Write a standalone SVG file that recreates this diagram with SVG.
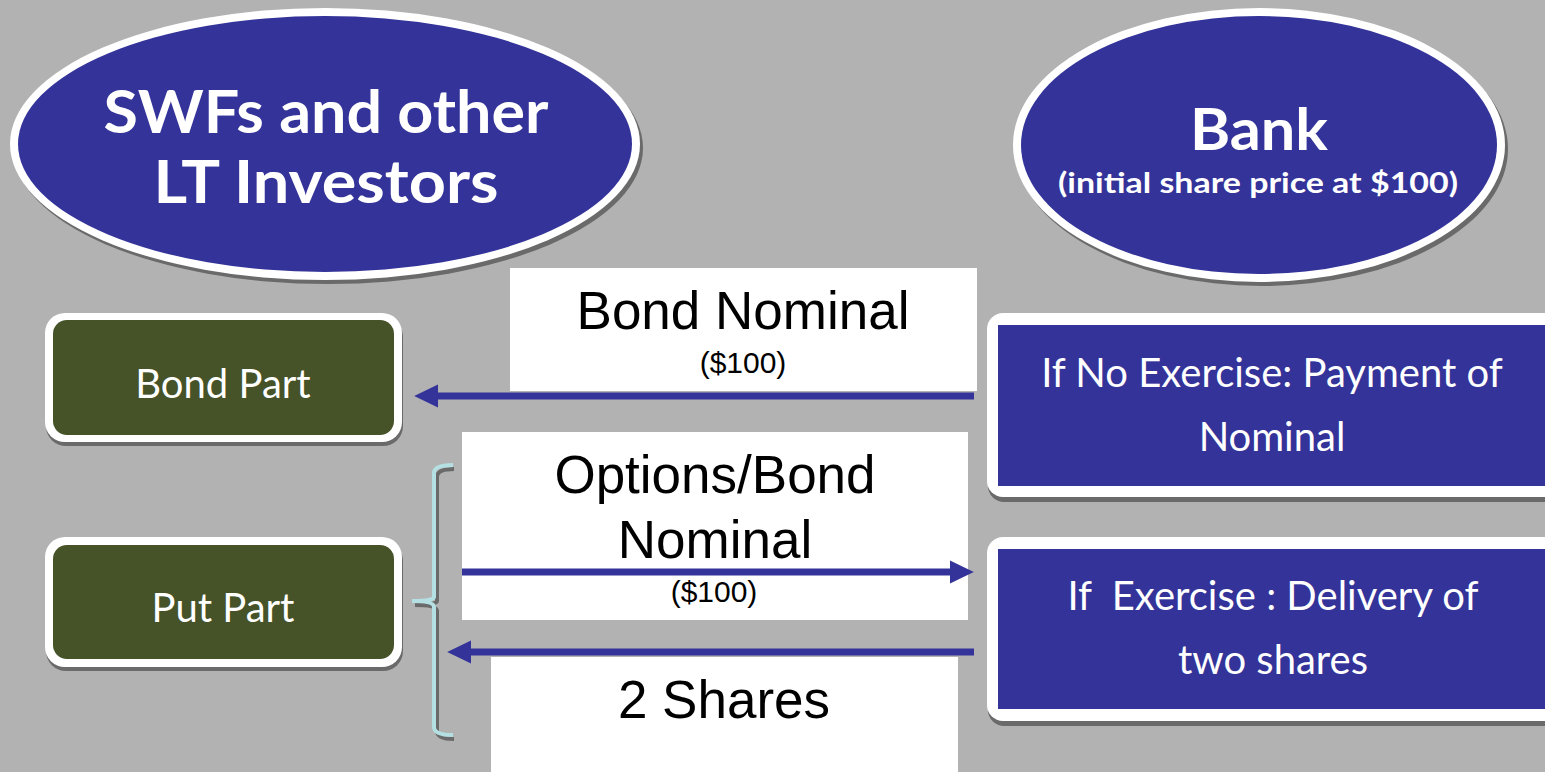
<svg xmlns="http://www.w3.org/2000/svg" width="1545" height="772" viewBox="0 0 1545 772">
<style>
.bg{fill:#b2b2b2}
.shadow{fill:#6a6a6a}
.white{fill:#ffffff}
.blue{fill:#333399}
.green{fill:#465228}
.ell{font-family:Lato,"Open Sans","DejaVu Sans",sans-serif;font-weight:bold;fill:#ffffff;text-anchor:middle}
.box{font-family:Lato,"Open Sans","DejaVu Sans",sans-serif;fill:#ffffff;text-anchor:middle}
.lbl{font-family:"Liberation Sans",Arial,sans-serif;fill:#000000;text-anchor:middle}
.conn{stroke:#333399;stroke-width:7;fill:none}
</style>
<defs>
<marker id="ah" markerWidth="4" markerHeight="4" refX="0" refY="1.65" orient="auto" markerUnits="strokeWidth">
<path d="M0,0 L3.4,1.65 L0,3.3 Z" fill="#333399"/>
</marker>
</defs>
<rect class="bg" x="0" y="0" width="1545" height="772"/>

<g id="investors">
<ellipse class="shadow" cx="328" cy="148" rx="315" ry="136"/>
<ellipse class="white" cx="325" cy="144" rx="315" ry="136"/>
<ellipse class="blue" cx="325" cy="144" rx="307" ry="128"/>
<text class="ell" x="326" y="133" font-size="60" textLength="445" lengthAdjust="spacingAndGlyphs">SWFs and other</text>
<text class="ell" x="326" y="203" font-size="60" textLength="345" lengthAdjust="spacingAndGlyphs">LT Investors</text>
</g>

<g id="bank">
<ellipse class="shadow" cx="1262" cy="149" rx="246" ry="137"/>
<ellipse class="white" cx="1259" cy="145" rx="246" ry="137"/>
<ellipse class="blue" cx="1259" cy="145" rx="238" ry="129"/>
<text class="ell" x="1259" y="150" font-size="58" textLength="138" lengthAdjust="spacingAndGlyphs">Bank</text>
<text class="ell" x="1258" y="193" font-size="29" textLength="400" lengthAdjust="spacingAndGlyphs">(initial share price at $100)</text>
</g>

<g id="bond-part">
<rect class="shadow" x="46" y="317" width="357" height="129" rx="20"/>
<rect class="white" x="45" y="313" width="357" height="129" rx="20"/>
<rect class="green" x="53" y="320" width="341" height="115" rx="14"/>
<text class="box" x="223" y="398" font-size="40">Bond Part</text>
</g>

<g id="put-part">
<rect class="shadow" x="46" y="541" width="357" height="130" rx="20"/>
<rect class="white" x="45" y="537" width="357" height="130" rx="20"/>
<rect class="green" x="53" y="545" width="341" height="114" rx="14"/>
<text class="box" x="223" y="622" font-size="40">Put Part</text>
</g>

<g id="no-exercise">
<rect class="shadow" x="988" y="318" width="580" height="184" rx="16"/>
<rect class="white" x="987" y="313" width="580" height="184" rx="16"/>
<rect class="blue" x="998" y="325" width="570" height="161"/>
<text class="box" x="1272" y="387" font-size="40">If No Exercise: Payment of</text>
<text class="box" x="1272" y="451" font-size="40">Nominal</text>
</g>

<g id="exercise">
<rect class="shadow" x="988" y="542" width="580" height="184" rx="16"/>
<rect class="white" x="987" y="537" width="580" height="184" rx="16"/>
<rect class="blue" x="998" y="549" width="570" height="160"/>
<text class="box" x="1273" y="610" font-size="40" xml:space="preserve">If  Exercise : Delivery of</text>
<text class="box" x="1273" y="674" font-size="40">two shares</text>
</g>

<g id="brace">
<path d="M453,467 Q436,467 436,475 L436,599 Q436,603 414,603 Q436,603 436,609 L436,729 Q436,737 453,737" fill="none" stroke="#6a6a6a" stroke-width="4" transform="translate(1,2)"/>
<path d="M453,465 Q434,465 434,473 L434,597 Q434,601 412,601 Q434,601 434,607 L434,727 Q434,735 453,735" fill="none" stroke="#b5e0e3" stroke-width="4"/>
</g>

<g id="label-bond-nominal">
<rect class="white" x="510" y="268" width="467" height="123"/>
<text class="lbl" x="743" y="329" font-size="53">Bond Nominal</text>
<text class="lbl" x="743" y="373" font-size="30">($100)</text>
</g>

<g id="label-options">
<rect class="white" x="462" y="432" width="506" height="188"/>
<text class="lbl" x="715" y="493" font-size="53">Options/Bond</text>
<text class="lbl" x="715" y="558" font-size="53">Nominal</text>
<text class="lbl" x="714" y="602" font-size="30">($100)</text>
</g>

<g id="label-shares">
<rect class="white" x="491" y="657" width="467" height="115"/>
<text class="lbl" x="724" y="718" font-size="53">2 Shares</text>
</g>

<g id="connectors">
<path class="conn" d="M974,396 L438,396" marker-end="url(#ah)"/>
<path class="conn" d="M462,572 L950,572" marker-end="url(#ah)"/>
<path class="conn" d="M974,652 L471,652" marker-end="url(#ah)"/>
</g>
</svg>
